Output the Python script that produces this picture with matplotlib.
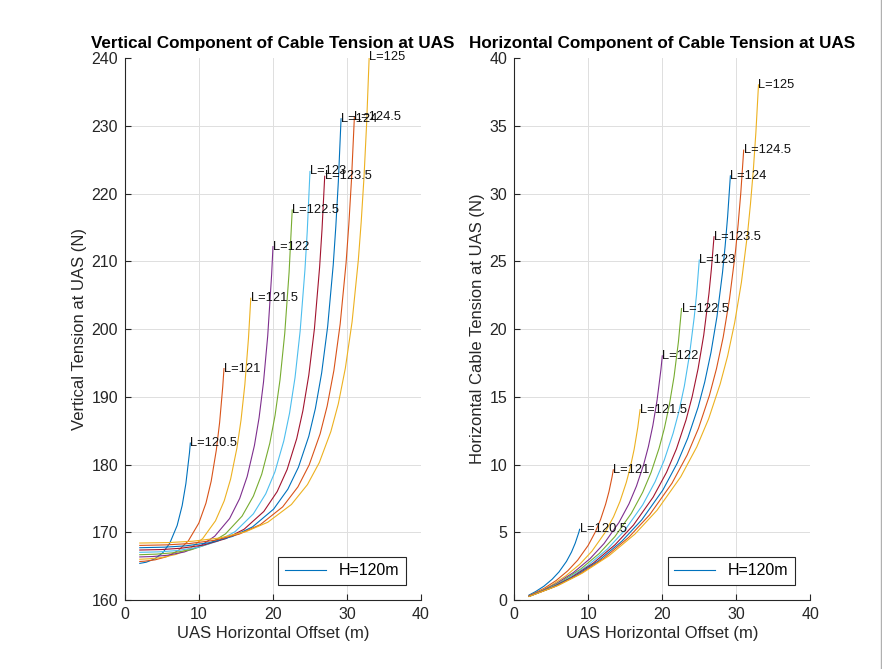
import matplotlib
matplotlib.use('Agg')
import matplotlib.pyplot as plt
from matplotlib.lines import Line2D

plt.rcParams['font.family'] = ['Liberation Sans', 'DejaVu Sans']

# cable lengths (m), one curve per length, UAS height H=120m
cable_lengths = [120.5, 121, 121.5, 122, 122.5, 123, 123.5, 124, 124.5, 125]

# horizontal offset of UAS (m) for each curve
offset_x = [
    [2.0, 2.87, 4.00, 5.11, 6.05, 7.05, 7.73, 8.23, 8.72, 8.83],
    [2.0, 2.64, 4.06, 5.66, 7.23, 8.56, 9.98, 10.94, 11.65, 12.34, 12.79, 13.21, 13.38],
    [2.0, 3.24, 4.97, 6.94, 8.87, 10.50, 12.23, 13.41, 14.28, 15.13, 15.68, 16.20, 16.69, 17.0],
    [2.0, 3.74, 5.75, 8.02, 10.25, 12.13, 14.14, 15.50, 16.51, 17.49, 18.12, 18.72, 19.29, 19.82, 20.0],
    [2.0, 4.19, 6.43, 8.98, 11.47, 13.58, 15.82, 17.35, 18.48, 19.57, 20.28, 20.95, 21.59, 22.18, 22.60],
    [2.0, 4.59, 7.06, 9.84, 12.58, 14.89, 17.35, 19.02, 20.26, 21.46, 22.24, 22.98, 23.67, 24.32, 24.63, 25.0],
    [2.0, 4.97, 7.63, 10.64, 13.60, 16.10, 18.76, 20.57, 21.91, 23.21, 24.04, 24.84, 25.60, 26.30, 26.63, 26.99],
    [2.0, 5.31, 8.16, 11.39, 14.55, 17.23, 20.08, 22.01, 23.44, 24.84, 25.73, 26.58, 27.39, 28.14, 28.49, 28.83, 29.20],
    [2.0, 5.64, 8.67, 12.09, 15.45, 18.29, 21.31, 23.37, 24.89, 26.37, 27.32, 28.23, 29.08, 29.88, 30.25, 30.61, 31.0],
    [2.0, 5.95, 9.15, 12.76, 16.31, 19.30, 22.49, 24.66, 26.26, 27.82, 28.83, 29.78, 30.69, 31.53, 31.92, 32.30, 32.65, 33.0],
]

# vertical tension at UAS (N)
vert_tension = [
    [165.41, 165.58, 166.06, 166.98, 168.38, 171.00, 173.95, 177.19, 181.77, 183.16],
    [165.69, 165.73, 165.93, 166.40, 167.33, 168.73, 171.35, 174.29, 177.54, 182.11, 186.21, 191.47, 194.16],
    [166.02, 166.08, 166.27, 166.74, 167.67, 169.07, 171.69, 174.64, 177.88, 182.45, 186.55, 191.81, 198.66, 204.53],
    [166.36, 166.42, 166.61, 167.09, 168.01, 169.42, 172.03, 174.98, 178.22, 182.80, 186.89, 192.16, 199.00, 208.07, 212.16],
    [166.69, 166.77, 166.96, 167.43, 168.36, 169.76, 172.38, 175.33, 178.57, 183.14, 187.24, 192.50, 199.35, 208.41, 217.57],
    [167.04, 167.11, 167.30, 167.77, 168.70, 170.10, 172.72, 175.67, 178.91, 183.48, 187.58, 192.84, 199.69, 208.75, 214.40, 223.25],
    [167.38, 167.45, 167.65, 168.12, 169.05, 170.45, 173.07, 176.01, 179.26, 183.83, 187.93, 193.19, 200.04, 209.10, 214.75, 222.54],
    [167.72, 167.80, 167.99, 168.46, 169.39, 170.79, 173.41, 176.36, 179.60, 184.17, 188.27, 193.53, 200.38, 209.44, 215.09, 221.71, 231.03],
    [168.06, 168.14, 168.33, 168.81, 169.73, 171.13, 173.75, 176.70, 179.94, 184.52, 188.62, 193.88, 200.73, 209.79, 215.44, 222.06, 231.26],
    [168.41, 168.48, 168.68, 169.15, 170.08, 171.48, 174.10, 177.04, 180.29, 184.86, 188.96, 194.22, 201.07, 210.13, 215.78, 222.40, 230.20, 240.16],
]

# horizontal tension at UAS (N)
horiz_tension = [
    [0.37, 0.62, 1.02, 1.53, 2.08, 2.85, 3.54, 4.19, 4.99, 5.22],
    [0.33, 0.48, 0.87, 1.44, 2.16, 2.94, 4.03, 5.01, 5.93, 7.07, 7.99, 9.08, 9.61],
    [0.31, 0.59, 1.07, 1.77, 2.65, 3.61, 4.95, 6.14, 7.27, 8.67, 9.80, 11.13, 12.75, 14.05],
    [0.30, 0.68, 1.24, 2.04, 3.06, 4.17, 5.72, 7.10, 8.41, 10.02, 11.32, 12.87, 14.73, 17.03, 18.02],
    [0.29, 0.76, 1.38, 2.29, 3.43, 4.67, 6.40, 7.95, 9.41, 11.21, 12.67, 14.40, 16.49, 19.06, 21.51],
    [0.28, 0.83, 1.52, 2.51, 3.76, 5.12, 7.02, 8.72, 10.32, 12.30, 13.90, 15.79, 18.08, 20.90, 22.57, 25.09],
    [0.28, 0.90, 1.64, 2.71, 4.07, 5.53, 7.59, 9.42, 11.15, 13.29, 15.02, 17.08, 19.55, 22.59, 24.40, 26.81],
    [0.27, 0.96, 1.75, 2.90, 4.35, 5.92, 8.12, 10.09, 11.94, 14.23, 16.08, 18.27, 20.92, 24.18, 26.11, 28.31, 31.30],
    [0.27, 1.02, 1.86, 3.08, 4.62, 6.29, 8.62, 10.71, 12.67, 15.10, 17.07, 19.40, 22.21, 25.67, 27.73, 30.06, 33.20],
    [0.26, 1.08, 1.97, 3.25, 4.87, 6.63, 9.09, 11.30, 13.37, 15.94, 18.01, 20.47, 23.44, 27.09, 29.26, 31.71, 34.53, 38.02],
]

# MATLAB default line colour order
line_colors = ['#0072BD', '#D95319', '#EDB120', '#7E2F8E', '#77AC30',
               '#4DBEEE', '#A2142F']

axis_gray = '#262626'


def style_axes(ax, ylim, yticks):
    ax.set_xlim(0, 40)
    ax.set_ylim(*ylim)
    ax.set_xticks([0, 10, 20, 30, 40])
    ax.set_yticks(yticks)
    ax.grid(True, color='#dfdfdf', linewidth=0.7)
    ax.set_axisbelow(True)
    for side in ['top', 'right']:
        ax.spines[side].set_visible(False)
    for side in ['left', 'bottom']:
        ax.spines[side].set_color(axis_gray)
        ax.spines[side].set_linewidth(0.8)
    ax.tick_params(direction='in', length=4, width=0.8, colors=axis_gray,
                   labelsize=11.5, pad=5)
    # no grid line along the top limit
    ax.get_ygridlines()[-1].set_visible(False)


def draw_panel(ax, y_values, title, ylabel, ylim, yticks):
    for i, L in enumerate(cable_lengths):
        color = line_colors[i % len(line_colors)]
        label = 'H=120m' if i == 0 else None
        ax.plot(offset_x[i], y_values[i], color=color, linewidth=0.8, label=label)
        ax.text(offset_x[i][-1], y_values[i][-1], 'L=%g' % L,
                fontsize=9.3, ha='left', va='center', color='#111111')
    style_axes(ax, ylim, yticks)
    ax.set_title(title, fontsize=12.3, fontweight='bold', pad=7)
    ax.set_xlabel('UAS Horizontal Offset (m)', fontsize=12, color=axis_gray,
                  labelpad=3)
    ax.set_ylabel(ylabel, fontsize=12, color=axis_gray, labelpad=3)
    leg = ax.legend(loc='lower right', fontsize=11.5, fancybox=False,
                    edgecolor=axis_gray, handlelength=2.6, borderaxespad=0.95,
                    framealpha=1.0)
    leg.get_frame().set_linewidth(0.8)


fig = plt.figure(figsize=(8.82, 6.69), dpi=100)
ax1 = fig.add_axes([0.1417, 0.1031, 0.3356, 0.8102])
ax2 = fig.add_axes([0.5831, 0.1031, 0.3356, 0.8102])

draw_panel(ax1, vert_tension, 'Vertical Component of Cable Tension at UAS',
           'Vertical Tension at UAS (N)', (160, 240), range(160, 241, 10))
draw_panel(ax2, horiz_tension, 'Horizontal Component of Cable Tension at UAS',
           'Horizontal Cable Tension at UAS (N)', (0, 40), range(0, 41, 5))

# thin window edge on the right, as in the source screenshot
fig.add_artist(Line2D([0.9985, 0.9985], [0, 1], color='#b0b0b0', linewidth=1.0))

fig.savefig('out.png', dpi=100)
